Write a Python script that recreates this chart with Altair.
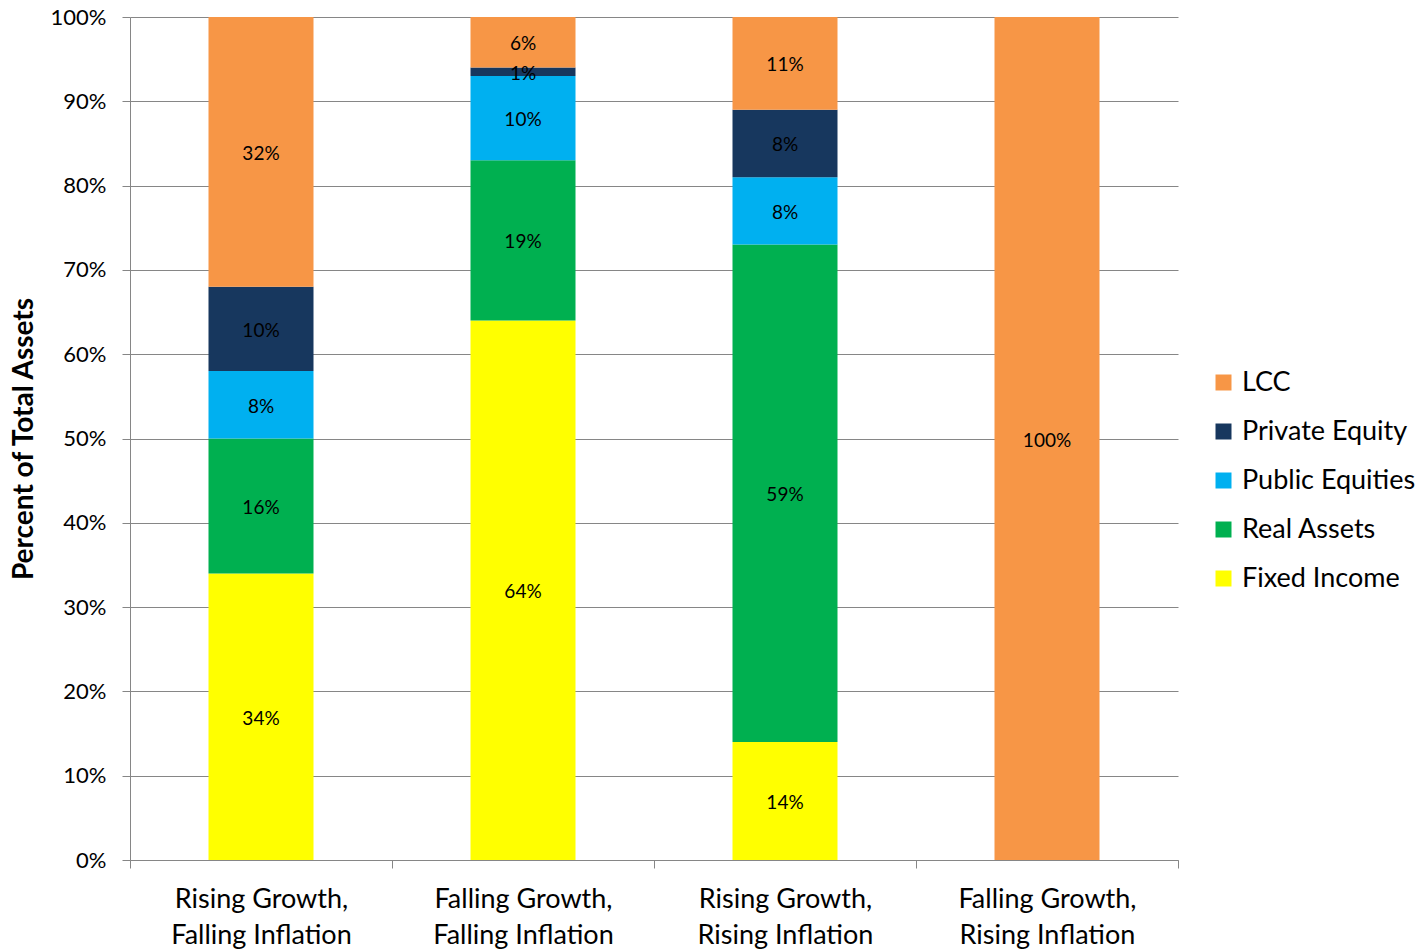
import altair as alt
import pandas as pd

# Scenario categories along the x axis
categories = [
    "Rising Growth, Falling Inflation",
    "Falling Growth, Falling Inflation",
    "Rising Growth, Rising Inflation",
    "Falling Growth, Rising Inflation",
]

# Asset classes, bottom of the stack first
series = ["Fixed Income", "Real Assets", "Public Equities", "Private Equity", "LCC"]

# Percent of total assets per scenario
fixed_income = [34, 64, 14, 0]
real_assets = [16, 19, 59, 0]
public_equities = [8, 10, 8, 0]
private_equity = [10, 1, 8, 0]
lcc = [32, 6, 11, 100]

colors = {
    "LCC": "#F79646",
    "Private Equity": "#17375E",
    "Public Equities": "#00B0F0",
    "Real Assets": "#00B050",
    "Fixed Income": "#FFFF00",
}
legend_order = ["LCC", "Private Equity", "Public Equities", "Real Assets", "Fixed Income"]

values = [fixed_income, real_assets, public_equities, private_equity, lcc]
rows = []
for s_idx, (name, vals) in enumerate(zip(series, values)):
    for c_idx, cat in enumerate(categories):
        rows.append({"category": cat, "series": name, "order": s_idx, "value": vals[c_idx]})
df = pd.DataFrame(rows)

FONT = "Lato"
GRID = "#868686"

base = (
    alt.Chart(df)
    .transform_filter("datum.value > 0")
    .transform_stack(
        stack="value",
        groupby=["category"],
        as_=["y0", "y1"],
        sort=[alt.SortField("order", order="ascending")],
    )
    .transform_calculate(mid="(datum.y0 + datum.y1) / 2", label="datum.value + '%'")
)

x_scale = alt.Scale(paddingInner=0, paddingOuter=0)

x_enc = alt.X(
    "category:N",
    sort=categories,
    scale=x_scale,
    axis=alt.Axis(
        title=None,
        labelAngle=0,
        labelExpr="[slice(datum.label, 0, indexof(datum.label, ',') + 1), slice(datum.label, indexof(datum.label, ',') + 2)]",
        labelFontSize=27,
        labelLineHeight=36,
        labelColor="black",
        labelPadding=18,
        labelBaseline="top",
        labelLimit=300,
        tickBand="extent",
        tickSize=8,
        tickColor=GRID,
        domainColor=GRID,
        grid=False,
    ),
)

bars = base.mark_bar(size=105).encode(
    x=x_enc,
    y=alt.Y(
        "y0:Q",
        scale=alt.Scale(domain=[0, 100], nice=False),
        axis=alt.Axis(
            title="Percent of Total Assets",
            titleFontSize=28,
            titleFontWeight="bold",
            titleColor="black",
            titleX=-92,
            values=list(range(0, 101, 10)),
            labelExpr="datum.value + '%'",
            labelFontSize=22,
            labelColor="black",
            labelPadding=16,
            tickSize=8,
            tickColor=GRID,
            domainColor=GRID,
            grid=True,
            gridColor=GRID,
        ),
    ),
    y2="y1:Q",
    color=alt.Color(
        "series:N",
        scale=alt.Scale(domain=legend_order, range=[colors[s] for s in legend_order]),
        legend=alt.Legend(
            title=None,
            orient="none",
            legendX=1080,
            legendY=352,
            symbolType="square",
            symbolSize=256,
            symbolStrokeWidth=0,
            symbolOpacity=1,
            labelFontSize=27,
            labelColor="black",
            labelOffset=5,
            labelLimit=300,
            rowPadding=21,
        ),
    ),
)

labels = base.mark_text(fontSize=19, color="black", font=FONT, dy=2).encode(
    x=alt.X("category:N", sort=categories),
    y=alt.Y("mid:Q"),
    text="label:N",
)

chart = (
    alt.layer(bars, labels)
    .properties(
        width=1048,
        height=843,
        autosize=alt.AutoSizeParams(type="none"),
        padding={"left": 130, "top": 17, "right": 244, "bottom": 90},
    )
    .configure(font=FONT)
    .configure_view(stroke=None)
)

chart.save("out.html", embed_options={"renderer": "svg", "actions": False})
